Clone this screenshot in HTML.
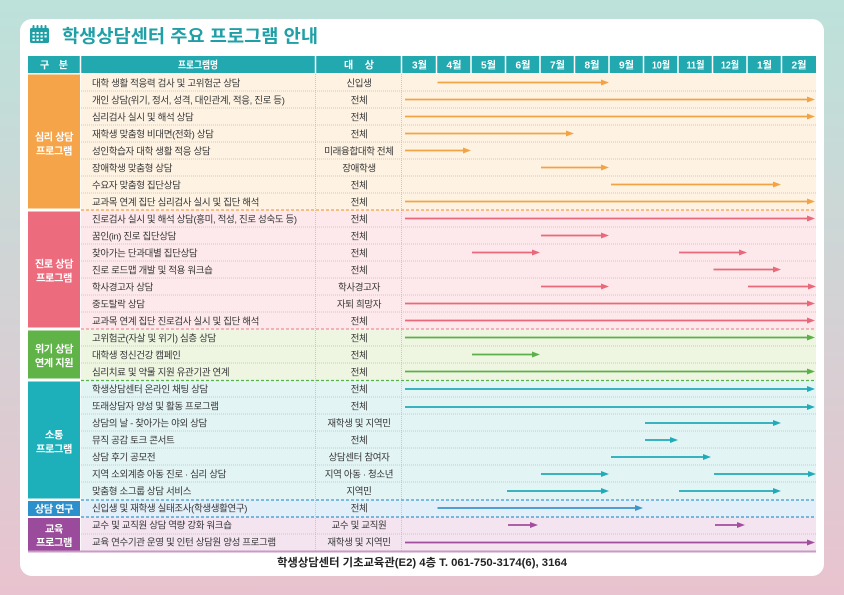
<!DOCTYPE html>
<html><head><meta charset="utf-8"><style>
html,body{margin:0;padding:0;width:844px;height:595px;overflow:hidden}
svg{display:block}
text{font-family:"Liberation Sans","Noto Sans CJK KR",sans-serif}
.n{font-size:9.5px;fill:#363636;letter-spacing:-0.35px}
.t{font-size:9.5px;fill:#363636;letter-spacing:-0.35px;text-anchor:middle}
.c{font-size:10.2px;fill:#fff;font-weight:bold;letter-spacing:-0.4px;text-anchor:middle}
.h{font-size:10px;fill:#fff;font-weight:bold;text-anchor:middle}
</style></head><body>
<svg width="844" height="595" viewBox="0 0 844 595" xmlns="http://www.w3.org/2000/svg">
<defs>
<linearGradient id="bg" x1="0" y1="0" x2="0" y2="1">
<stop offset="0" stop-color="#bce2da"/><stop offset="1" stop-color="#e9c3cf"/>
</linearGradient>
<marker id="mo" viewBox="0 0 8 6" refX="0" refY="3" markerWidth="8" markerHeight="6" markerUnits="userSpaceOnUse" orient="auto"><path d="M0,0L8,3L0,6z" fill="#f2a344"/></marker>
<marker id="mp" viewBox="0 0 8 6" refX="0" refY="3" markerWidth="8" markerHeight="6" markerUnits="userSpaceOnUse" orient="auto"><path d="M0,0L8,3L0,6z" fill="#e9697a"/></marker>
<marker id="mg" viewBox="0 0 8 6" refX="0" refY="3" markerWidth="8" markerHeight="6" markerUnits="userSpaceOnUse" orient="auto"><path d="M0,0L8,3L0,6z" fill="#5cb04a"/></marker>
<marker id="mt" viewBox="0 0 8 6" refX="0" refY="3" markerWidth="8" markerHeight="6" markerUnits="userSpaceOnUse" orient="auto"><path d="M0,0L8,3L0,6z" fill="#1fabb8"/></marker>
<marker id="mb" viewBox="0 0 8 6" refX="0" refY="3" markerWidth="8" markerHeight="6" markerUnits="userSpaceOnUse" orient="auto"><path d="M0,0L8,3L0,6z" fill="#3a95cb"/></marker>
<marker id="mv" viewBox="0 0 8 6" refX="0" refY="3" markerWidth="8" markerHeight="6" markerUnits="userSpaceOnUse" orient="auto"><path d="M0,0L8,3L0,6z" fill="#a24e9f"/></marker>
</defs>
<rect x="0" y="0" width="844" height="595" fill="url(#bg)"/>
<rect x="20" y="19" width="804" height="557" rx="12" fill="#fff"/>

<!-- title icon -->
<g fill="#1ea0a6">
<rect x="30" y="28" width="19" height="15" rx="1.5"/>
<rect x="32.5" y="25" width="2" height="5" rx="1"/>
<rect x="36.5" y="25" width="2" height="5" rx="1"/>
<rect x="40.5" y="25" width="2" height="5" rx="1"/>
<rect x="44.5" y="25" width="2" height="5" rx="1"/>
</g>
<g fill="#fff">
<rect x="32.5" y="32" width="2.2" height="2"/><rect x="36.5" y="32" width="2.2" height="2"/><rect x="40.5" y="32" width="2.2" height="2"/><rect x="44.5" y="32" width="2.2" height="2"/>
<rect x="32.5" y="35.5" width="2.2" height="2"/><rect x="36.5" y="35.5" width="2.2" height="2"/><rect x="40.5" y="35.5" width="2.2" height="2"/><rect x="44.5" y="35.5" width="2.2" height="2"/>
<rect x="32.5" y="39" width="2.2" height="2"/><rect x="36.5" y="39" width="2.2" height="2"/><rect x="40.5" y="39" width="2.2" height="2"/>
</g>
<text x="62" y="42.5" font-size="18" font-weight="bold" fill="#1ea0a6" textLength="256" lengthAdjust="spacingAndGlyphs">학생상담센터 주요 프로그램 안내</text>

<!-- header -->
<rect x="28" y="56" width="788" height="17" fill="#22a9b0"/>
<g stroke="#fff" stroke-width="1.5">
<line x1="80.5" y1="56" x2="80.5" y2="73"/><line x1="315.5" y1="56" x2="315.5" y2="73"/><line x1="401.5" y1="56" x2="401.5" y2="73"/>
<line x1="436.5" y1="56" x2="436.5" y2="73"/><line x1="471" y1="56" x2="471" y2="73"/><line x1="505.5" y1="56" x2="505.5" y2="73"/>
<line x1="540" y1="56" x2="540" y2="73"/><line x1="574.5" y1="56" x2="574.5" y2="73"/><line x1="609" y1="56" x2="609" y2="73"/>
<line x1="643.5" y1="56" x2="643.5" y2="73"/><line x1="678" y1="56" x2="678" y2="73"/><line x1="712.5" y1="56" x2="712.5" y2="73"/>
<line x1="747" y1="56" x2="747" y2="73"/><line x1="781.5" y1="56" x2="781.5" y2="73"/>
</g>
<text class="h" x="54" y="68.5" textLength="28" lengthAdjust="spacing">구 분</text>
<text class="h" x="198" y="68.5" textLength="40" lengthAdjust="spacingAndGlyphs">프로그램명</text>
<text class="h" x="359" y="68.5" textLength="30" lengthAdjust="spacing">대 상</text>
<g class="h">
<text class="h" x="419.5" y="68.5" textLength="15" lengthAdjust="spacingAndGlyphs">3월</text>
<text class="h" x="454" y="68.5" textLength="15" lengthAdjust="spacingAndGlyphs">4월</text>
<text class="h" x="488.5" y="68.5" textLength="15" lengthAdjust="spacingAndGlyphs">5월</text>
<text class="h" x="523" y="68.5" textLength="15" lengthAdjust="spacingAndGlyphs">6월</text>
<text class="h" x="557.5" y="68.5" textLength="15" lengthAdjust="spacingAndGlyphs">7월</text>
<text class="h" x="592" y="68.5" textLength="15" lengthAdjust="spacingAndGlyphs">8월</text>
<text class="h" x="626.5" y="68.5" textLength="15" lengthAdjust="spacingAndGlyphs">9월</text>
<text class="h" x="661" y="68.5" textLength="18" lengthAdjust="spacingAndGlyphs">10월</text>
<text class="h" x="695.5" y="68.5" textLength="18" lengthAdjust="spacingAndGlyphs">11월</text>
<text class="h" x="730" y="68.5" textLength="18" lengthAdjust="spacingAndGlyphs">12월</text>
<text class="h" x="764.5" y="68.5" textLength="15" lengthAdjust="spacingAndGlyphs">1월</text>
<text class="h" x="799" y="68.5" textLength="15" lengthAdjust="spacingAndGlyphs">2월</text>
</g>

<!-- row backgrounds -->
<rect x="81" y="74" width="735" height="136" fill="#fef3e3"/>
<rect x="81" y="210" width="735" height="119" fill="#fde9eb"/>
<rect x="81" y="329" width="735" height="51" fill="#eef6e2"/>
<rect x="81" y="380" width="735" height="120" fill="#e3f4f4"/>
<rect x="81" y="500" width="735" height="17" fill="#e3eff8"/>
<rect x="81" y="517" width="735" height="34" fill="#f3e4f0"/>

<!-- category cells -->
<rect x="28" y="74.5" width="52" height="134" fill="#f5a44a"/>
<rect x="28" y="211.5" width="52" height="116" fill="#ec6b7c"/>
<rect x="28" y="330.5" width="52" height="48" fill="#5fb347"/>
<rect x="28" y="381.5" width="52" height="117" fill="#1db0ba"/>
<rect x="28" y="501" width="52" height="15" fill="#2b90cb"/>
<rect x="28" y="518" width="52" height="33" fill="#9b4b9b"/>
<text class="c" x="54" y="140.5">심리 상담</text><text class="c" x="54" y="154.5">프로그램</text>
<text class="c" x="54" y="267.5">진로 상담</text><text class="c" x="54" y="281.5">프로그램</text>
<text class="c" x="54" y="352.5">위기 상담</text><text class="c" x="54" y="366.5">연계 지원</text>
<text class="c" x="54" y="438.5">소통</text><text class="c" x="54" y="452.5">프로그램</text>
<text class="c" x="54" y="512.5">상담 연구</text>
<text class="c" x="54" y="532.5">교육</text><text class="c" x="54" y="546">프로그램</text>

<!-- dotted row separators -->
<g stroke="#bdbdbd" stroke-width="0.8" stroke-dasharray="1,1">
<line x1="81" y1="91" x2="816" y2="91"/><line x1="81" y1="108" x2="816" y2="108"/><line x1="81" y1="125" x2="816" y2="125"/>
<line x1="81" y1="142" x2="816" y2="142"/><line x1="81" y1="159" x2="816" y2="159"/><line x1="81" y1="176" x2="816" y2="176"/>
<line x1="81" y1="193" x2="816" y2="193"/>
<line x1="81" y1="227" x2="816" y2="227"/><line x1="81" y1="244" x2="816" y2="244"/><line x1="81" y1="261" x2="816" y2="261"/>
<line x1="81" y1="278" x2="816" y2="278"/><line x1="81" y1="295" x2="816" y2="295"/><line x1="81" y1="312" x2="816" y2="312"/>
<line x1="81" y1="346" x2="816" y2="346"/><line x1="81" y1="363" x2="816" y2="363"/>
<line x1="81" y1="397" x2="816" y2="397"/><line x1="81" y1="414" x2="816" y2="414"/><line x1="81" y1="431" x2="816" y2="431"/>
<line x1="81" y1="448" x2="816" y2="448"/><line x1="81" y1="465" x2="816" y2="465"/><line x1="81" y1="482" x2="816" y2="482"/>
<line x1="81" y1="534" x2="816" y2="534"/>
<line x1="315.5" y1="74" x2="315.5" y2="551"/><line x1="401.5" y1="74" x2="401.5" y2="551"/>
</g>
<!-- section dashed separators -->
<g stroke-width="1.2" stroke-dasharray="3,2">
<line x1="81" y1="210" x2="816" y2="210" stroke="#f2a344"/>
<line x1="81" y1="329" x2="816" y2="329" stroke="#ef8f9c"/>
<line x1="81" y1="380.5" x2="816" y2="380.5" stroke="#5cb04a"/>
<line x1="81" y1="500" x2="816" y2="500" stroke="#3a9ccb"/>
<line x1="81" y1="517" x2="816" y2="517" stroke="#3a95cb"/>
</g>
<rect x="28" y="550.5" width="788" height="2" fill="#c99ac6"/>

<!-- program names -->
<g>
<text class="n" x="92" y="86.5">대학 생활 적응력 검사 및 고위험군 상담</text>
<text class="n" x="92" y="103.5">개인 상담(위기, 정서, 성격, 대인관계, 적응, 진로 등)</text>
<text class="n" x="92" y="120.5">심리검사 실시 및 해석 상담</text>
<text class="n" x="92" y="137.5">재학생 맞춤형 비대면(전화) 상담</text>
<text class="n" x="92" y="154.5">성인학습자 대학 생활 적응 상담</text>
<text class="n" x="92" y="171.5">장애학생 맞춤형 상담</text>
<text class="n" x="92" y="188.5">수요자 맞춤형 집단상담</text>
<text class="n" x="92" y="205.5">교과목 연계 집단 심리검사 실시 및 집단 해석</text>
<text class="n" x="92" y="222.5">진로검사 실시 및 해석 상담(흥미, 적성, 진로 성숙도 등)</text>
<text class="n" x="92" y="239.5">꿈인(in) 진로 집단상담</text>
<text class="n" x="92" y="256.5">찾아가는 단과대별 집단상담</text>
<text class="n" x="92" y="273.5">진로 로드맵 개발 및 적용 워크숍</text>
<text class="n" x="92" y="290.5">학사경고자 상담</text>
<text class="n" x="92" y="307.5">중도탈락 상담</text>
<text class="n" x="92" y="324.5">교과목 연계 집단 진로검사 실시 및 집단 해석</text>
<text class="n" x="92" y="341.5">고위험군(자살 및 위기) 심층 상담</text>
<text class="n" x="92" y="358.5">대학생 정신건강 캠페인</text>
<text class="n" x="92" y="375.5">심리치료 및 약물 지원 유관기관 연계</text>
<text class="n" x="92" y="392.5">학생상담센터 온라인 채팅 상담</text>
<text class="n" x="92" y="409.5">또래상담자 양성 및 활동 프로그램</text>
<text class="n" x="92" y="426.5">상담의 날 - 찾아가는 야외 상담</text>
<text class="n" x="92" y="443.5">뮤직 공감 토크 콘서트</text>
<text class="n" x="92" y="460.5">상담 후기 공모전</text>
<text class="n" x="92" y="477.5">지역 소외계층 아동 진로 · 심리 상담</text>
<text class="n" x="92" y="494.5">맞춤형 소그룹 상담 서비스</text>
<text class="n" x="92" y="511.5">신입생 및 재학생 실태조사(학생생활연구)</text>
<text class="n" x="92" y="528.5">교수 및 교직원 상담 역량 강화 워크숍</text>
<text class="n" x="92" y="545.5">교육 연수기관 운영 및 인턴 상담원 양성 프로그램</text>
</g>
<!-- targets -->
<g>
<text class="t" x="359" y="86.5">신입생</text>
<text class="t" x="359" y="103.5">전체</text>
<text class="t" x="359" y="120.5">전체</text>
<text class="t" x="359" y="137.5">전체</text>
<text class="t" x="359" y="154.5">미래융합대학 전체</text>
<text class="t" x="359" y="171.5">장애학생</text>
<text class="t" x="359" y="188.5">전체</text>
<text class="t" x="359" y="205.5">전체</text>
<text class="t" x="359" y="222.5">전체</text>
<text class="t" x="359" y="239.5">전체</text>
<text class="t" x="359" y="256.5">전체</text>
<text class="t" x="359" y="273.5">전체</text>
<text class="t" x="359" y="290.5">학사경고자</text>
<text class="t" x="359" y="307.5">자퇴 희망자</text>
<text class="t" x="359" y="324.5">전체</text>
<text class="t" x="359" y="341.5">전체</text>
<text class="t" x="359" y="358.5">전체</text>
<text class="t" x="359" y="375.5">전체</text>
<text class="t" x="359" y="392.5">전체</text>
<text class="t" x="359" y="409.5">전체</text>
<text class="t" x="359" y="426.5">재학생 및 지역민</text>
<text class="t" x="359" y="443.5">전체</text>
<text class="t" x="359" y="460.5">상담센터 참여자</text>
<text class="t" x="359" y="477.5">지역 아동 · 청소년</text>
<text class="t" x="359" y="494.5">지역민</text>
<text class="t" x="359" y="511.5">전체</text>
<text class="t" x="359" y="528.5">교수 및 교직원</text>
<text class="t" x="359" y="545.5">재학생 및 지역민</text>
</g>

<!-- arrows -->
<g stroke-width="1.8">
<g stroke="#f2a344" marker-end="url(#mo)">
<line x1="437.5" y1="82.5" x2="601" y2="82.5"/>
<line x1="405" y1="99.5" x2="807" y2="99.5"/>
<line x1="405" y1="116.5" x2="807" y2="116.5"/>
<line x1="405" y1="133.5" x2="566" y2="133.5"/>
<line x1="405" y1="150.5" x2="463" y2="150.5"/>
<line x1="541" y1="167.5" x2="601" y2="167.5"/>
<line x1="611" y1="184.5" x2="773" y2="184.5"/>
<line x1="405" y1="201.5" x2="807" y2="201.5"/>
</g>
<g stroke="#e9697a" marker-end="url(#mp)">
<line x1="405" y1="218.5" x2="807" y2="218.5"/>
<line x1="541" y1="235.5" x2="601" y2="235.5"/>
<line x1="472" y1="252.5" x2="532" y2="252.5"/>
<line x1="679" y1="252.5" x2="739" y2="252.5"/>
<line x1="713.5" y1="269.5" x2="773" y2="269.5"/>
<line x1="541" y1="286.5" x2="601" y2="286.5"/>
<line x1="748" y1="286.5" x2="808" y2="286.5"/>
<line x1="405" y1="303.5" x2="807" y2="303.5"/>
<line x1="405" y1="320.5" x2="807" y2="320.5"/>
</g>
<g stroke="#5cb04a" marker-end="url(#mg)">
<line x1="405" y1="337.5" x2="807" y2="337.5"/>
<line x1="472" y1="354.5" x2="532" y2="354.5"/>
<line x1="405" y1="371.5" x2="807" y2="371.5"/>
</g>
<g stroke="#1fabb8" marker-end="url(#mt)">
<line x1="405" y1="389" x2="807" y2="389"/>
<line x1="405" y1="407" x2="807" y2="407"/>
<line x1="645" y1="423" x2="773" y2="423"/>
<line x1="645" y1="440" x2="670" y2="440"/>
<line x1="611" y1="457" x2="703" y2="457"/>
<line x1="541" y1="474" x2="601" y2="474"/>
<line x1="714" y1="474" x2="808" y2="474"/>
<line x1="507" y1="491" x2="601" y2="491"/>
<line x1="679" y1="491" x2="773" y2="491"/>
</g>
<g stroke="#3a95cb" marker-end="url(#mb)">
<line x1="437.5" y1="508" x2="635" y2="508"/>
</g>
<g stroke="#a24e9f" marker-end="url(#mv)">
<line x1="508" y1="525" x2="530" y2="525"/>
<line x1="715" y1="525" x2="737" y2="525"/>
<line x1="405" y1="542.5" x2="807" y2="542.5"/>
</g>
</g>

<!-- footer -->
<text x="422" y="566" font-size="11" font-weight="bold" fill="#222" text-anchor="middle" textLength="290" lengthAdjust="spacingAndGlyphs">학생상담센터 기초교육관(E2) 4층  T. 061-750-3174(6), 3164</text>
</svg>
</body></html>
